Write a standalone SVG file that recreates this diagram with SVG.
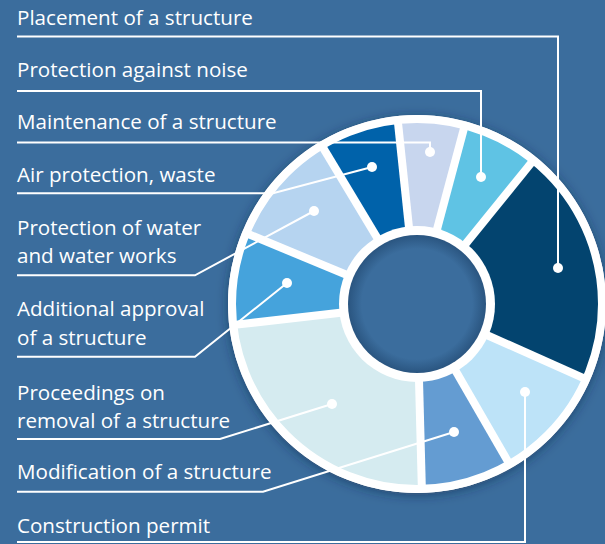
<svg xmlns="http://www.w3.org/2000/svg" width="605" height="544" viewBox="0 0 605 544">
<defs>
<style>
.lbl{font-family:"Open Sans","Liberation Sans",sans-serif;font-size:20.6px;fill:#ffffff;}
.ln{fill:none;stroke:#ffffff;stroke-width:2;}
.dot{fill:#ffffff;}
.gap{stroke:#ffffff;stroke-width:8;}
</style>
<filter id="sh" x="-20%" y="-20%" width="140%" height="140%">
<feDropShadow dx="0" dy="2" stdDeviation="6" flood-color="#0b2a4a" flood-opacity="0.55"/>
</filter>
<radialGradient id="hole" cx="0.5" cy="0.5" r="0.5">
<stop offset="0.8" stop-color="#3b6d9d"/>
<stop offset="1" stop-color="#2a5580"/>
</radialGradient>
</defs>
<rect width="605" height="544" fill="#3b6d9d"/>
<g id="donut">
<circle cx="417" cy="304" r="189" fill="#ffffff" filter="url(#sh)"/>
<path id="seg-air" d="M322.8,147.1 A183,183 0 0 1 397.9,122.0 L409.1,228.4 A76,76 0 0 0 377.9,238.9 Z" fill="#0062aa"/>
<path id="seg-maintenance" d="M397.9,122.0 A183,183 0 0 1 464.4,127.2 L436.7,230.6 A76,76 0 0 0 409.1,228.4 Z" fill="#c8d6ee"/>
<path id="seg-noise" d="M464.4,127.2 A183,183 0 0 1 532.2,161.8 L464.8,244.9 A76,76 0 0 0 436.7,230.6 Z" fill="#5fc3e4"/>
<path id="seg-placement" d="M532.2,161.8 A183,183 0 0 1 584.2,378.4 L486.4,334.9 A76,76 0 0 0 464.8,244.9 Z" fill="#03446f"/>
<path id="seg-construction" d="M584.2,378.4 A183,183 0 0 1 508.5,462.5 L455.0,369.8 A76,76 0 0 0 486.4,334.9 Z" fill="#bde3f8"/>
<path id="seg-modification" d="M508.5,462.5 A183,183 0 0 1 421.8,486.9 L419.0,380.0 A76,76 0 0 0 455.0,369.8 Z" fill="#649cd2"/>
<path id="seg-proceedings" d="M421.8,486.9 A183,183 0 0 1 235.2,324.7 L341.5,312.6 A76,76 0 0 0 419.0,380.0 Z" fill="#d5ebf0"/>
<path id="seg-additional" d="M235.2,324.7 A183,183 0 0 1 247.9,234.0 L346.8,274.9 A76,76 0 0 0 341.5,312.6 Z" fill="#45a3dc"/>
<path id="seg-water" d="M247.9,234.0 A183,183 0 0 1 322.8,147.1 L377.9,238.9 A76,76 0 0 0 346.8,274.9 Z" fill="#b6d4f0"/>
<g id="gaps">
<line class="gap" x1="417" y1="304" x2="321.2" y2="144.6"/>
<line class="gap" x1="417" y1="304" x2="397.6" y2="119.0"/>
<line class="gap" x1="417" y1="304" x2="465.1" y2="124.3"/>
<line class="gap" x1="417" y1="304" x2="534.0" y2="159.5"/>
<line class="gap" x1="417" y1="304" x2="586.9" y2="379.6"/>
<line class="gap" x1="417" y1="304" x2="510.0" y2="465.1"/>
<line class="gap" x1="417" y1="304" x2="421.9" y2="489.9"/>
<line class="gap" x1="417" y1="304" x2="232.2" y2="325.1"/>
<line class="gap" x1="417" y1="304" x2="245.2" y2="232.8"/>
</g>
<circle cx="417" cy="304" r="185" fill="none" stroke="#ffffff" stroke-width="8"/>
<circle cx="417" cy="304" r="78" fill="#ffffff"/>
<circle cx="417" cy="304" r="69" fill="url(#hole)"/>
</g>
<g id="connectors">
<polyline class="ln" points="17,36.5 558,36.5 558,268"/>
<polyline class="ln" points="17,91 481,91 481,177"/>
<polyline class="ln" points="17,142.5 430,142.5 430,152"/>
<polyline class="ln" points="17,193.3 273,193.3 372,167"/>
<polyline class="ln" points="17,275.3 195,275.3 314,211"/>
<polyline class="ln" points="17,356.7 195,356.7 287,283"/>
<polyline class="ln" points="17,439 220,439 332,404"/>
<polyline class="ln" points="17,491.7 263,491.7 454,432"/>
<polyline class="ln" points="17,542 525,542 525,392"/>
<circle class="dot" cx="558" cy="268" r="5"/>
<circle class="dot" cx="481" cy="177" r="5"/>
<circle class="dot" cx="430" cy="152" r="5"/>
<circle class="dot" cx="372" cy="167" r="5"/>
<circle class="dot" cx="314" cy="211" r="5"/>
<circle class="dot" cx="287" cy="283" r="5"/>
<circle class="dot" cx="332" cy="404" r="5"/>
<circle class="dot" cx="454" cy="432" r="5"/>
<circle class="dot" cx="525" cy="392" r="5"/>
</g>
<g id="label-placement"><text class="lbl" x="17" y="25">Placement of a structure</text></g>
<g id="label-noise"><text class="lbl" x="17" y="76.5">Protection against noise</text></g>
<g id="label-maintenance"><text class="lbl" x="17" y="129.3">Maintenance of a structure</text></g>
<g id="label-air"><text class="lbl" x="17" y="181.7">Air protection, waste</text></g>
<g id="label-water"><text class="lbl" x="17" y="235">Protection of water</text><text class="lbl" x="17" y="263.3">and water works</text></g>
<g id="label-additional"><text class="lbl" x="17" y="316">Additional approval</text><text class="lbl" x="17" y="345">of a structure</text></g>
<g id="label-proceedings"><text class="lbl" x="17" y="400">Proceedings on</text><text class="lbl" x="17" y="428.3">removal of a structure</text></g>
<g id="label-modification"><text class="lbl" x="17" y="479.3">Modification of a structure</text></g>
<g id="label-construction"><text class="lbl" x="17" y="533">Construction permit</text></g>
</svg>
